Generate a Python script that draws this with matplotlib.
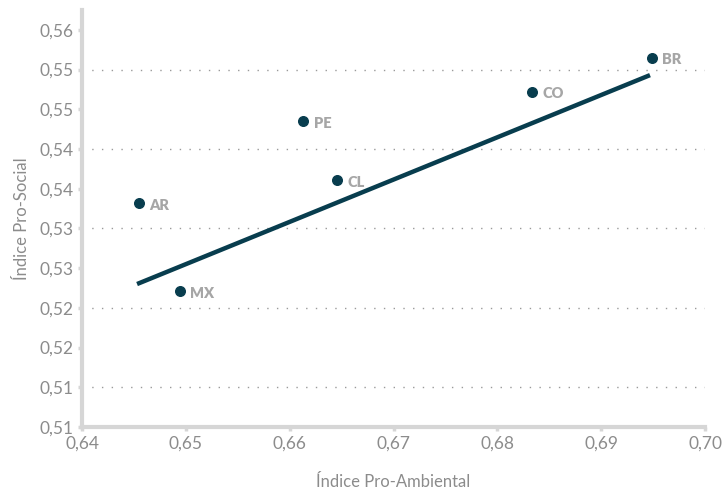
import matplotlib
matplotlib.use('Agg')
import matplotlib.pyplot as plt
import numpy as np

plt.rcParams['font.family'] = ['Lato', 'DejaVu Sans']

# data
paises = ['BR', 'CO', 'PE', 'CL', 'AR', 'MX']
pro_ambiental = [0.6949, 0.6833, 0.6613, 0.6646, 0.6455, 0.6494]
pro_social = [0.5545, 0.5502, 0.5465, 0.5391, 0.5362, 0.5251]
tend_x = [0.6453, 0.6947]
tend_y = [0.5260, 0.5523]

x_ticks = [0.64, 0.65, 0.66, 0.67, 0.68, 0.69, 0.70]
y_ticks = [0.508 + 0.005 * i for i in range(11)]
y_grid = y_ticks[1::2]

azul = '#083d4e'
cinza = '#8c8c8c'
cinza_lbl = '#a6a6a6'
eixo = '#d6d6d6'

fig = plt.figure(figsize=(7.24, 4.92), dpi=100)
ax = fig.add_axes([0.1133, 0.1321, 0.8605, 0.8476])

for g in y_grid:
    ax.axhline(g, color='#9a9a9a', lw=1, ls=(0, (1, 6)), zorder=1)

ax.plot(tend_x, tend_y, color=azul, lw=3.2, solid_capstyle='butt', zorder=2)
ax.scatter(pro_ambiental, pro_social, s=48, color=azul, zorder=3)
for p, xv, yv in zip(paises, pro_ambiental, pro_social):
    ax.annotate(p, (xv, yv), xytext=(7.5, -1.5), textcoords='offset points',
                va='center', ha='left', fontsize=10.5, fontweight='heavy', color=cinza_lbl)

ax.set_xlim(0.64, 0.70)
ax.set_ylim(0.508, 0.5605)
ax.set_xticks(x_ticks)
ax.set_xticklabels([('%.2f' % v).replace('.', ',') for v in x_ticks])
ax.set_yticks(y_ticks)
ax.set_yticklabels([('%.2f' % v).replace('.', ',') for v in y_ticks])

for s in ['top', 'right']:
    ax.spines[s].set_visible(False)
for s in ['left', 'bottom']:
    ax.spines[s].set_color(eixo)
    ax.spines[s].set_linewidth(3)
ax.tick_params(axis='both', colors=eixo, length=3, width=2.5, labelsize=12.5,
               labelcolor=cinza, pad=3)

ax.set_xlabel('Índice Pro-Ambiental', color=cinza, fontsize=12, labelpad=16)
ax.set_ylabel('Índice Pro-Social', color=cinza, fontsize=12, labelpad=7)

fig.savefig('out.png', dpi=100)
